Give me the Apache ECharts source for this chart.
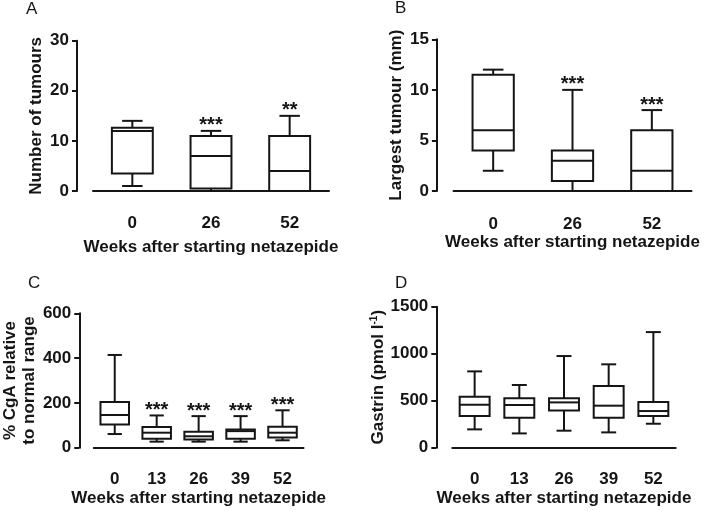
<!DOCTYPE html>
<html>
<head>
<meta charset="utf-8">
<script src="https://cdn.jsdelivr.net/npm/echarts@6/dist/echarts.min.js"></script>
<style>
  html, body { margin: 0; padding: 0; background: #fff; }
  #chart { width: 709px; height: 512px; }
</style>
</head>
<body>
<div id="chart"></div>
<script>
// categories (weeks after starting netazepide)
const weeksAB = ['0', '26', '52'];
const weeksCD = ['0', '13', '26', '39', '52'];

// box values: [min, q1, median, q3, max]
const tumourCount = [[1, 3.5, 12, 12.6, 14], [0, 0.5, 7, 11, 12], [0, 0, 4, 11, 15]];
const tumourCountStars = ['', '***', '**'];

const largestTumour = [[2, 4, 6, 11.5, 12], [0, 1, 3, 4, 10], [0, 0, 2, 6, 8]];
const largestTumourStars = ['', '***', '***'];

const cgaPercent = [[61, 104, 146, 204, 414], [27, 40, 67, 92, 144], [27, 37, 51, 71, 141], [27, 40, 74, 81, 141], [33, 45, 67, 94, 167]];
const cgaStars = ['', '***', '***', '***', '***'];

const gastrin = [[195, 337, 457, 543, 812], [152, 319, 454, 525, 667], [181, 397, 482, 525, 975], [163, 319, 447, 656, 887], [255, 337, 390, 486, 1230]];
const gastrinStars = ['', '', '', '', ''];

const FONT = '"Liberation Sans", Arial, sans-serif';
const INK = '#151515';

// box + whisker with half-width caps (like the Prism figure)
function boxItem(ratio, stars) {
  return function (params, api) {
    const i = api.value(0);
    const w = api.size([1, 0])[0] * ratio;
    const pMin = api.coord([i, api.value(1)]);
    const cx = pMin[0];
    const yMin = pMin[1];
    const yQ1 = api.coord([i, api.value(2)])[1];
    const yMed = api.coord([i, api.value(3)])[1];
    const yQ3 = api.coord([i, api.value(4)])[1];
    const yMax = api.coord([i, api.value(5)])[1];
    const ln = (x1, y1, x2, y2) => ({
      type: 'line',
      shape: {x1, y1, x2, y2},
      style: {stroke: INK, lineWidth: 2}
    });
    const children = [
      ln(cx, yMax, cx, yQ3),
      ln(cx, yQ1, cx, yMin),
      ln(cx - w / 4, yMax, cx + w / 4, yMax),
      ln(cx - w / 4, yMin, cx + w / 4, yMin),
      {
        type: 'rect',
        shape: {x: cx - w / 2, y: yQ3, width: w, height: yQ1 - yQ3},
        style: {fill: '#fff', stroke: INK, lineWidth: 2}
      },
      ln(cx - w / 2, yMed, cx + w / 2, yMed)
    ];
    if (stars[i]) {
      children.push({
        type: 'text',
        x: cx,
        y: yMax - 5,
        style: {
          text: stars[i],
          fill: INK,
          fontSize: 20,
          fontWeight: 'bold',
          fontFamily: FONT,
          align: 'center',
          verticalAlign: 'middle'
        }
      });
    }
    return {type: 'group', children};
  };
}

function toRows(list) {
  return list.map((v, i) => [i].concat(v));
}

function xAxisOf(idx, cats, offset, nameGap) {
  return {
    type: 'category',
    gridIndex: idx,
    data: cats,
    offset: offset,
    name: 'Weeks after starting netazepide',
    nameLocation: 'middle',
    nameGap: nameGap,
    nameTextStyle: {fontSize: 17, fontWeight: 'bold', color: INK, fontFamily: FONT},
    axisLine: {lineStyle: {color: INK, width: 2}},
    axisTick: {alignWithLabel: true, length: 5, lineStyle: {color: INK, width: 2}},
    axisLabel: {fontSize: 17, fontWeight: 'bold', color: INK, fontFamily: FONT, margin: 8},
    splitLine: {show: false}
  };
}

function yAxisOf(idx, max, interval, offset, name, nameGap, extra) {
  return Object.assign({
    type: 'value',
    gridIndex: idx,
    min: 0,
    max: max,
    interval: interval,
    offset: offset,
    name: name,
    nameLocation: 'middle',
    nameGap: nameGap,
    nameTextStyle: {fontSize: 17, fontWeight: 'bold', color: INK, fontFamily: FONT, lineHeight: 19},
    axisLine: {show: true, lineStyle: {color: INK, width: 2}},
    axisTick: {show: true, length: 5, lineStyle: {color: INK, width: 2}},
    axisLabel: {
      fontSize: 17, fontWeight: 'bold', color: INK, fontFamily: FONT, margin: 8,
      formatter: (v) => String(v)
    },
    splitLine: {show: false}
  }, extra || {});
}

function boxSeries(idx, values, ratio, stars) {
  return {
    type: 'custom',
    xAxisIndex: idx,
    yAxisIndex: idx,
    renderItem: boxItem(ratio, stars),
    encode: {x: 0, y: [1, 2, 3, 4, 5]},
    data: toRows(values),
    silent: true
  };
}

const letterStyle = {fontSize: 17, fontWeight: 'normal', color: INK, fontFamily: FONT};

const chart = echarts.init(document.getElementById('chart'));
chart.setOption({
  backgroundColor: '#fff',
  animation: false,
  title: [
    {text: 'A', left: 26, top: 1, padding: 0, textStyle: letterStyle},
    {text: 'B', left: 395, top: 0, padding: 0, textStyle: letterStyle},
    {text: 'C', left: 28, top: 275, padding: 0, textStyle: letterStyle},
    {text: 'D', left: 395, top: 275, padding: 0, textStyle: letterStyle}
  ],
  grid: [
    {left: 93, top: 40.7, width: 236, height: 150.3},
    {left: 453.5, top: 39.3, width: 238, height: 151.7},
    {left: 92, top: 313.3, width: 211.5, height: 134.4},
    {left: 452.3, top: 306.7, width: 223.4, height: 141}
  ],
  xAxis: [
    xAxisOf(0, weeksAB, 16.3, 32),
    xAxisOf(1, weeksAB, 16.5, 24),
    xAxisOf(2, weeksCD, 15, 27),
    xAxisOf(3, weeksCD, 15.6, 27)
  ],
  yAxis: [
    yAxisOf(0, 30, 10, 16, 'Number of tumours', 30),
    yAxisOf(1, 15, 5, 16.6, 'Largest tumour (mm)', 30),
    yAxisOf(2, 600, 200, 14.5, '% CgA relative\nto normal range', 39),
    yAxisOf(3, 1500, 500, 16, '{a|Gastrin (pmol l}{s|-1}{a|)}', 36, {
      nameTextStyle: {
        color: INK,
        fontFamily: FONT,
        rich: {
          a: {fontSize: 17, fontWeight: 'bold', color: INK, fontFamily: FONT},
          s: {fontSize: 10, fontWeight: 'bold', color: INK, fontFamily: FONT, verticalAlign: 'top'}
        }
      }
    })
  ],
  series: [
    boxSeries(0, tumourCount, 0.52, tumourCountStars),
    boxSeries(1, largestTumour, 0.52, largestTumourStars),
    boxSeries(2, cgaPercent, 0.68, cgaStars),
    boxSeries(3, gastrin, 0.67, gastrinStars)
  ]
});
</script>
</body>
</html>
